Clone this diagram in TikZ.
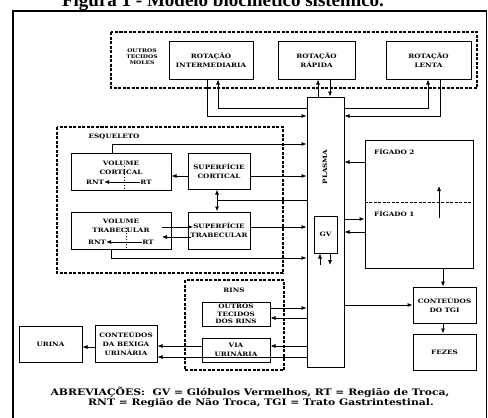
\documentclass[tikz,border=0pt]{standalone}
\usepackage{fontspec}
\setmainfont{DejaVu Serif}
\newfontfamily\bfnt[FakeStretch=1.2]{DejaVu Serif}
\newfontfamily\titlefont{Liberation Serif}
\usetikzlibrary{arrows.meta}
\tikzset{
  box/.style={draw, line width=1pt, inner sep=0pt, align=center, font=\bfnt\bfseries\fontsize{6}{9}\selectfont},
  lbl/.style={inner sep=0pt, align=center, font=\bfnt\bfseries\fontsize{6}{9}\selectfont},
  grp/.style={draw, line width=1.4pt, dash pattern=on 3pt off 1.5pt},
  ar/.style={-{Latex[length=5pt,width=4pt]}, line width=0.7pt},
  arb/.style={{Latex[length=5pt,width=4pt]}-{Latex[length=5pt,width=4pt]}, line width=0.9pt},
  ln/.style={line width=0.7pt},
}
\begin{document}
\begin{tikzpicture}[x=1pt,y=-1pt]
\useasboundingbox (0,0) rectangle (488,418);
% title (cut off at top)
\node[anchor=base, inner sep=0pt, font=\titlefont\bfseries\fontsize{19}{20}\selectfont] (title) at (223,6) {Figura 1 - Modelo biocinético sistêmico.};
% frame
\draw[line width=1.2pt] (13,11) rectangle (486.5,430);
% groups
\draw[grp] (111,32) rectangle (477,88);
\draw[grp] (57,127) rectangle (283,273);
\draw[grp] (185,280) rectangle (284,370);
\node[lbl, font=\bfnt\bfseries\fontsize{5}{6}\selectfont] (otm) at (142,57) {OUTROS\\TECIDOS\\MOLES};
\node[lbl] (esq) at (114,137) {ESQUELETO};
\node[lbl] (rins) at (234,290) {RINS};
% boxes
\node[box, minimum width=84, minimum height=38] (ri) at (211,60) {ROTAÇÃO\\INTERMEDIARIA};
\node[box, minimum width=77, minimum height=38] (rr) at (316.5,60) {ROTAÇÃO\\RÁPIDA};
\node[box, minimum width=85, minimum height=38] (rl) at (428.5,60) {ROTAÇÃO\\LENTA};
\node[box, minimum width=37, minimum height=270] (plasma) at (325.5,232) {};
\node[lbl, rotate=90] (plab) at (325,167) {PLASMA};
\node[box, minimum width=100, minimum height=37] (vc) at (121,171.5) {};
\node[lbl] (vclab) at (121,167.5) {VOLUME\\CORTICAL};
\node[box, minimum width=62, minimum height=36] (sc) at (219,171) {SUPERFÍCIE\\CORTICAL};
\node[box, minimum width=100, minimum height=37] (vt) at (121,230.5) {};
\node[lbl] (vtlab) at (121,226) {VOLUME\\TRABECULAR};
\node[box, minimum width=62, minimum height=37] (st) at (219,230.5) {SUPERFÍCIE\\TRABECULAR};
\node[box, minimum width=108, minimum height=128] (fig) at (419,204) {};
\node[lbl, anchor=west] (f2) at (374,152) {FÍGADO 2};
\node[lbl, anchor=west] (f1) at (374,214) {FÍGADO 1};
\node[box, minimum width=23, minimum height=37] (gv) at (325.5,234.5) {GV};
\node[box, minimum width=63, minimum height=36] (tgi) at (444.5,305) {CONTEÚDOS\\DO TGI};
\node[box, minimum width=63, minimum height=36] (fez) at (444.5,352) {FEZES};
\node[box, minimum width=68, minimum height=24, font=\bfnt\bfseries\fontsize{6}{7.8}\selectfont] (otr) at (236,314) {OUTROS\\TECIDOS\\DOS RINS};
\node[box, minimum width=68, minimum height=24] (via) at (236,350) {VIA\\URINÁRIA};
\node[box, minimum width=62, minimum height=37] (bex) at (126,343.5) {CONTEÚDOS\\DA BEXIGA\\URINÁRIA};
\node[box, minimum width=63, minimum height=36] (uri) at (50.5,344) {URINA};
% RNT / RT
\node[lbl] (rnt1) at (95,182) {RNT};
\node[lbl] (rt1) at (146,182) {RT};
\node[lbl] (rnt2) at (97,242) {RNT};
\node[lbl] (rt2) at (148,242) {RT};
\draw[ar] (rt1.west) -- (rnt1.east);
\draw[ar] (rt2.west) -- (rnt2.east);
\draw[ln, dotted, line width=0.9pt] (124,166) -- (vc.south -| 124,0);
\draw[ln, dotted, line width=0.9pt] (126,228) -- (vt.south -| 126,0);
% soft tissues
\draw[ar] (ri.south -| 207,0) |- (plasma.west |- 0,116);
\draw[ar] (plasma.west |- 0,108) -| (ri.south -| 218,0);
\draw[ar] (plasma.north -| 318,0) -- (rr.south -| 318,0);
\draw[ar] (rr.south -| 330,0) -- (plasma.north -| 330,0);
\draw[ar] (rl.south -| 440,0) |- (plasma.east |- 0,116);
\draw[ar] (plasma.east |- 0,108) -| (rl.south -| 428,0);
% skeleton
\draw[ar] (vc.north -| 112,0) |- (plasma.west |- 0,144);
\draw[ar] (sc.west |- 0,176) -- (vc.east |- 0,176);
\draw[ar] (sc.east |- 0,176) -- (plasma.west |- 0,176);
\draw[arb] (sc.south -| 217,0) -- (st.north -| 217,0);
\coordinate (jn) at (217,200);
\draw[ln] (plasma.west |- jn) -- (jn);
\coordinate (vtx) at (162,227);
\coordinate (stx) at (193,227);
\draw[ar] (vtx) -- (stx);
\coordinate (vty) at (162,237);
\coordinate (sty) at (191,237);
\draw[ar] (sty) -- (vty);
\draw[ar] (st.east |- 0,227) -- (plasma.west |- 0,227);
\draw[ar] (vt.south -| 111,0) |- (plasma.west |- 0,258);
% liver
\draw[ar] (fig.west |- 0,162) -- (plasma.east |- 0,162);
\draw[ar] (plasma.east |- 0,219) -- (fig.west |- 0,219);
\draw[ar] (fig.west |- 0,232) -- (plasma.east |- 0,232);
\draw[line width=1pt, dash pattern=on 3pt off 1.5pt] (fig.west |- 0,202) -- (fig.east |- 0,202);
\coordinate (fa) at (439,218);
\coordinate (fb) at (439,186);
\draw[ar] (fa) -- (fb);
% GV
\coordinate (gva) at (320,265);
\coordinate (gvb) at (330,265);
\draw[ar] (gva) -- (gv.south -| gva);
\draw[ar] (gv.south -| gvb) -- (gvb);
% GI tract
\draw[ar] (fig.south -| 443,0) -- (tgi.north -| 443,0);
\draw[ar] (tgi.south -| 443,0) -- (fez.north -| 443,0);
\draw[ar] (plasma.east |- 0,305) -- (tgi.west |- 0,305);
% kidneys
\draw[ar] (otr.east |- 0,308) -- (plasma.west |- 0,308);
\draw[ar] (plasma.west |- 0,318) -- (otr.east |- 0,318);
\draw[ar] (plasma.west |- 0,346) -- (via.east |- 0,346);
\draw[ar] (via.west |- 0,346) -- (bex.east |- 0,346);
\draw[ar] (plasma.west |- 0,357) -- (bex.east |- 0,357);
\draw[ar] (bex.west |- 0,347) -- (uri.east |- 0,347);
% abbreviations
\node[lbl, font=\bfnt\bfseries\fontsize{9}{11}\selectfont] (ab1) at (250,392) {ABREVIAÇÕES:\ \ GV = Glóbulos Vermelhos, RT = Região de Troca,};
\node[lbl, font=\bfnt\bfseries\fontsize{9}{11}\selectfont] (ab2) at (261,403) {RNT = Região de Não Troca, TGI = Trato Gastrintestinal.};
\end{tikzpicture}
\end{document}
